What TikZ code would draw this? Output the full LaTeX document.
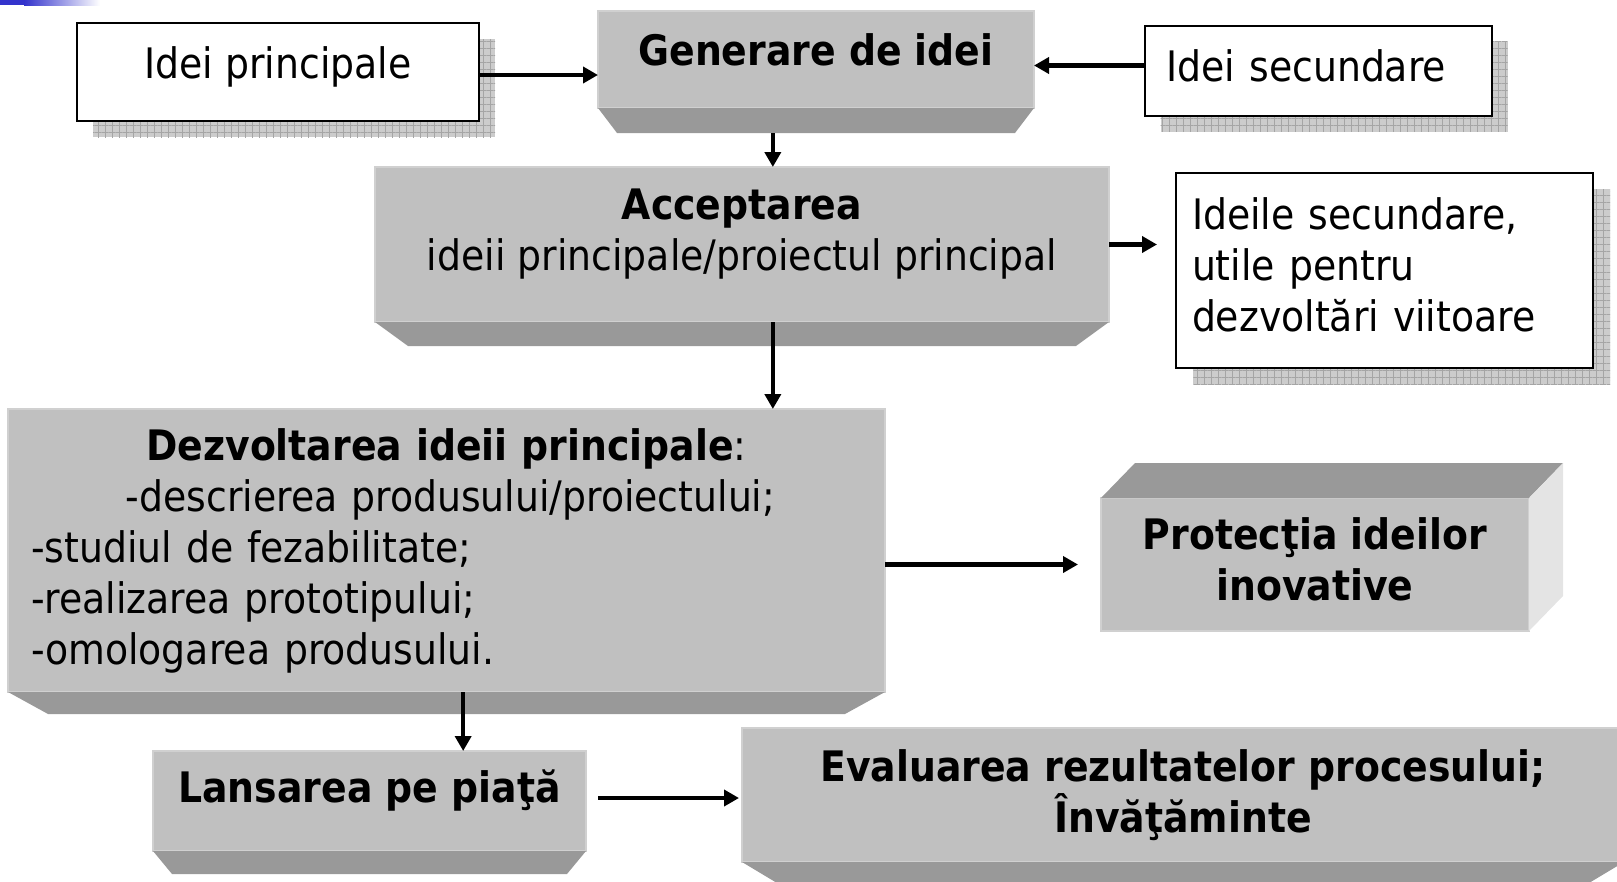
\documentclass[tikz,border=0pt]{standalone}
\usepackage{fontspec}
\setmainfont{DejaVu Sans Condensed}
\usetikzlibrary{arrows.meta, calc, backgrounds, patterns.meta}

\definecolor{facegrey}{RGB}{192,192,192}
\definecolor{bevelgrey}{RGB}{153,153,153}
\definecolor{sidegrey}{RGB}{228,228,228}
\definecolor{edgegrey}{RGB}{208,208,208}
\definecolor{shadowgrey}{RGB}{204,204,204}
\definecolor{gridgrey}{RGB}{165,165,165}
\definecolor{slideblue}{RGB}{51,51,204}

\tikzstyle{whitebox} = [rectangle, draw=black, line width=2pt, fill=white, inner sep=0pt, outer sep=0pt]
\tikzstyle{greybox} = [rectangle, fill=facegrey, draw=edgegrey, line width=1.5pt, inner sep=0pt, outer sep=0pt, align=center]
\tikzstyle{arrow} = [line width=4.5pt, -{Triangle[length=15pt, width=16pt]}]
\tikzstyle{shadowgrid} = [fill=shadowgrey,
  postaction={pattern={Lines[angle=0, distance=7pt, line width=0.8pt]}, pattern color=gridgrey},
  postaction={pattern={Lines[angle=90, distance=7pt, line width=0.8pt]}, pattern color=gridgrey}]

% bevelled lower edge of a grey box: node, inset, depth
\newcommand{\bevelbase}[3]{%
  \fill[bevelgrey] (#1.south west) -- (#1.south east) -- ++(-#2,#3) -- ($(#1.south west)+(#2,#3)$) -- cycle;}

\begin{document}
\begin{tikzpicture}[x=1pt, y=-1pt, every node/.style={font=\fontsize{42}{51}\selectfont}]
    \useasboundingbox (0,0) rectangle (1617,881);

    % slide corner
    \fill[slideblue] (0,0) rectangle (24,5);
    \shade[left color=slideblue, right color=white] (24,0) rectangle (100,5);

    % white boxes
    \node[whitebox, minimum width=402pt, minimum height=98pt, text depth=18pt] (ideip) at (278,72) {Idei principale};
    \node[whitebox, minimum width=347pt, minimum height=90pt, text width=303pt, align=left, text depth=10pt] (ideis) at (1318,70.5) {Idei secundare};
    \node[whitebox, minimum width=417pt, minimum height=195pt, text width=385pt, align=left, text depth=114pt] (ideile) at (1384.5,270.5) {Ideile secundare,\\utile pentru\\dezvoltări viitoare};

    % grey boxes
    \node[greybox, minimum width=436pt, minimum height=97pt, text depth=19pt] (gen) at (816,59.5) {\textbf{Generare de idei}};
    \node[greybox, minimum width=734pt, minimum height=155pt, text depth=30pt] (acc) at (742,244.5) {\textbf{Acceptarea}\\ideii principale/proiectul principal};
    \node[greybox, minimum width=877pt, minimum height=283pt, text width=831pt, align=left] (dez) at (446.5,550.5) {%
        \makebox[831pt]{\textbf{Dezvoltarea ideii principale}:}\\
        \makebox[831pt]{\hspace{8pt}-descrierea produsului/proiectului;}\\
        -studiul de fezabilitate;\\
        -realizarea prototipului;\\
        -omologarea produsului.};
    \node[greybox, minimum width=428pt, minimum height=133pt, text depth=10pt] (prot) at (1315,564.5) {\textbf{Protecţia ideilor}\\\textbf{inovative}};
    \node[greybox, minimum width=433pt, minimum height=100pt, text depth=30pt] (lans) at (369.5,801) {\textbf{Lansarea pe piaţă}};
    \node[greybox, minimum width=882pt, minimum height=134pt] (eval) at (1183,795) {\textbf{Evaluarea rezultatelor procesului;}\\\textbf{Învăţăminte}};

    % shadows
    \begin{scope}[on background layer]
        \path[shadowgrid] ($(ideip.north west)+(16,16)$) rectangle ($(ideip.south east)+(16,16)$);
        \path[shadowgrid] ($(ideis.north west)+(16,16)$) rectangle ($(ideis.south east)+(16,16)$);
        \path[shadowgrid] ($(ideile.north west)+(17,16)$) rectangle ($(ideile.south east)+(17,16)$);
    \end{scope}

    % bevels
    \bevelbase{gen}{19}{25}
    \bevelbase{acc}{33}{24}
    \bevelbase{dez}{40}{22}
    \bevelbase{lans}{19}{23}
    \bevelbase{eval}{40}{24}

    % block sides
    \fill[bevelgrey] (prot.north west) -- ++(34,-35) -- ($(prot.north east)+(34,-35)$) -- (prot.north east) -- cycle;
    \fill[sidegrey] (prot.north east) -- ++(34,-35) -- ($(prot.south east)+(34,-35)$) -- (prot.south east) -- cycle;

    % Arrows
    \coordinate (g1) at ($(gen.south west)!0.401!(gen.south east)+(0,25)$);
    \coordinate (d1) at ($(dez.south west)!0.519!(dez.south east)$);
    \draw[arrow] ([yshift=-3pt]ideip.east) -- ([yshift=-3pt]ideip.east -| gen.west);
    \draw[arrow] ([yshift=5pt]ideis.west) -- ([yshift=5pt]ideis.west -| gen.east);
    \draw[arrow] (g1) -- (g1 |- acc.north);
    \draw[arrow, shorten >=19pt] (acc.east) -- (acc.east -| ideile.west);
    \draw[arrow] (g1 |- acc.south) -- (g1 |- dez.north);
    \draw[arrow, shorten >=23pt] (prot.west -| dez.east) -- (prot.west);
    \draw[arrow] (d1) -- (d1 |- lans.north);
    \draw[arrow, shorten <=12pt, shorten >=3pt] ([yshift=3pt]lans.east) -- ([yshift=3pt]lans.east -| eval.west);
\end{tikzpicture}
\end{document}
